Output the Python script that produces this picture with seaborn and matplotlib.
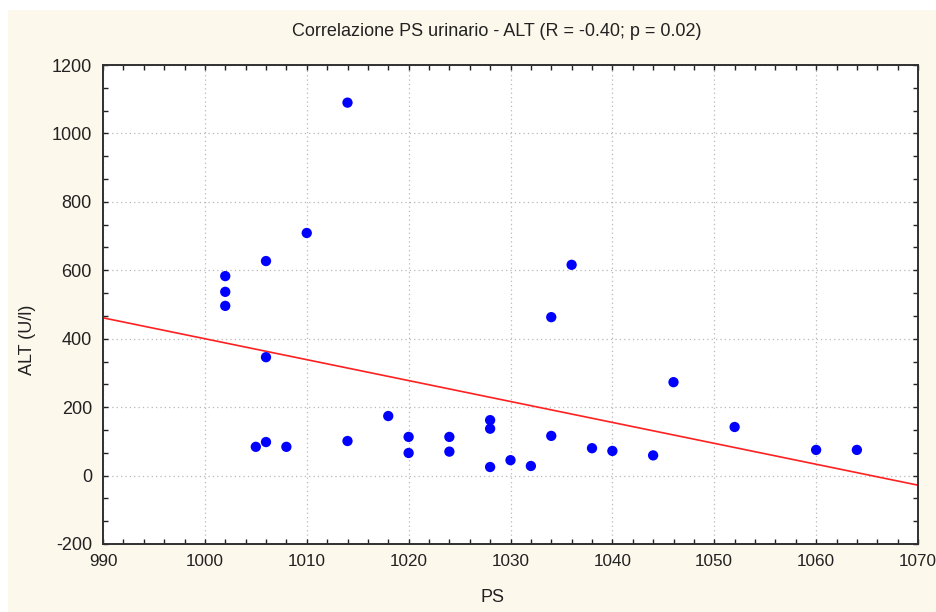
import numpy as np
import pandas as pd
import seaborn as sns
import matplotlib.pyplot as plt
from matplotlib.patches import Rectangle
from matplotlib.ticker import MultipleLocator, AutoMinorLocator

# PS urinario vs ALT
ps = [1002, 1002, 1002, 1006, 1006, 1006, 1005, 1008, 1010, 1014,
      1014, 1018, 1020, 1020, 1024, 1024, 1028, 1028, 1028, 1030,
      1032, 1034, 1034, 1036, 1038, 1040, 1044, 1046, 1052, 1060, 1064]
alt = [583, 537, 496, 627, 346, 98, 84, 84, 709, 1090,
       101, 174, 113, 66, 113, 70, 162, 137, 25, 45,
       28, 463, 116, 616, 80, 72, 59, 273, 142, 75, 75]

title = "Correlazione PS urinario - ALT (R = -0.40; p = 0.02)"
xlab = "PS"
ylab = "ALT (U/l)"

df = pd.DataFrame({"PS": ps, "ALT": alt})

sns.set_style("white")
plt.rcParams['font.family'] = ['Liberation Sans', 'DejaVu Sans']
plt.rcParams['axes.unicode_minus'] = False

fig = plt.figure(figsize=(9.36, 6.12), dpi=100, facecolor='white')
# cream panel behind everything (thin white border top/left)
fig.patches.append(Rectangle((8/936, 0), 1, 602/612, transform=fig.transFigure,
                             facecolor='#fdf8ec', edgecolor='none', zorder=-1))

ax = fig.add_axes([103/936, 68/612, 815/936, 479/612])
ax.set_facecolor('white')
ax.set_xlim(990, 1070)
ax.set_ylim(-200, 1200)

sns.regplot(x="PS", y="ALT", data=df, ci=None, truncate=False, ax=ax,
            scatter_kws=dict(s=55, color='#0000ff', edgecolor='none', alpha=1, zorder=3),
            line_kws=dict(color='#ff2020', lw=1.2, zorder=2))

ax.set_xlim(990, 1070)
ax.set_ylim(-200, 1200)
ax.xaxis.set_major_locator(MultipleLocator(10))
ax.yaxis.set_major_locator(MultipleLocator(200))
ax.xaxis.set_minor_locator(AutoMinorLocator(5))
ax.yaxis.set_minor_locator(AutoMinorLocator(3))

ax.grid(True, which='major', linestyle=(0, (1, 2.5)), color='#b8b8b8', lw=0.9)
ax.tick_params(which='both', direction='in', length=3.5, width=1,
               top=True, right=True, bottom=True, left=True, color='#222222')
ax.tick_params(axis='x', pad=7, labelsize=12.3, labelcolor='#222222')
ax.tick_params(axis='y', pad=8, labelsize=13, labelcolor='#222222')
for sp in ax.spines.values():
    sp.set_color('#303030')
    sp.set_linewidth(1.4)
    sp.set_zorder(5)

ax.set_xlabel("")
ax.set_ylabel("")
fig.text(497/936, 1 - 31/612, title, ha='center', va='center', fontsize=13, color='#222222')
fig.text(493/936, 1 - 598/612, xlab, ha='center', va='center', fontsize=13, color='#222222')
fig.text(27/936, 1 - 340/612, ylab, ha='center', va='center', rotation=90, fontsize=13,
         color='#222222')

fig.savefig("out.png", dpi=100, facecolor=fig.get_facecolor())
